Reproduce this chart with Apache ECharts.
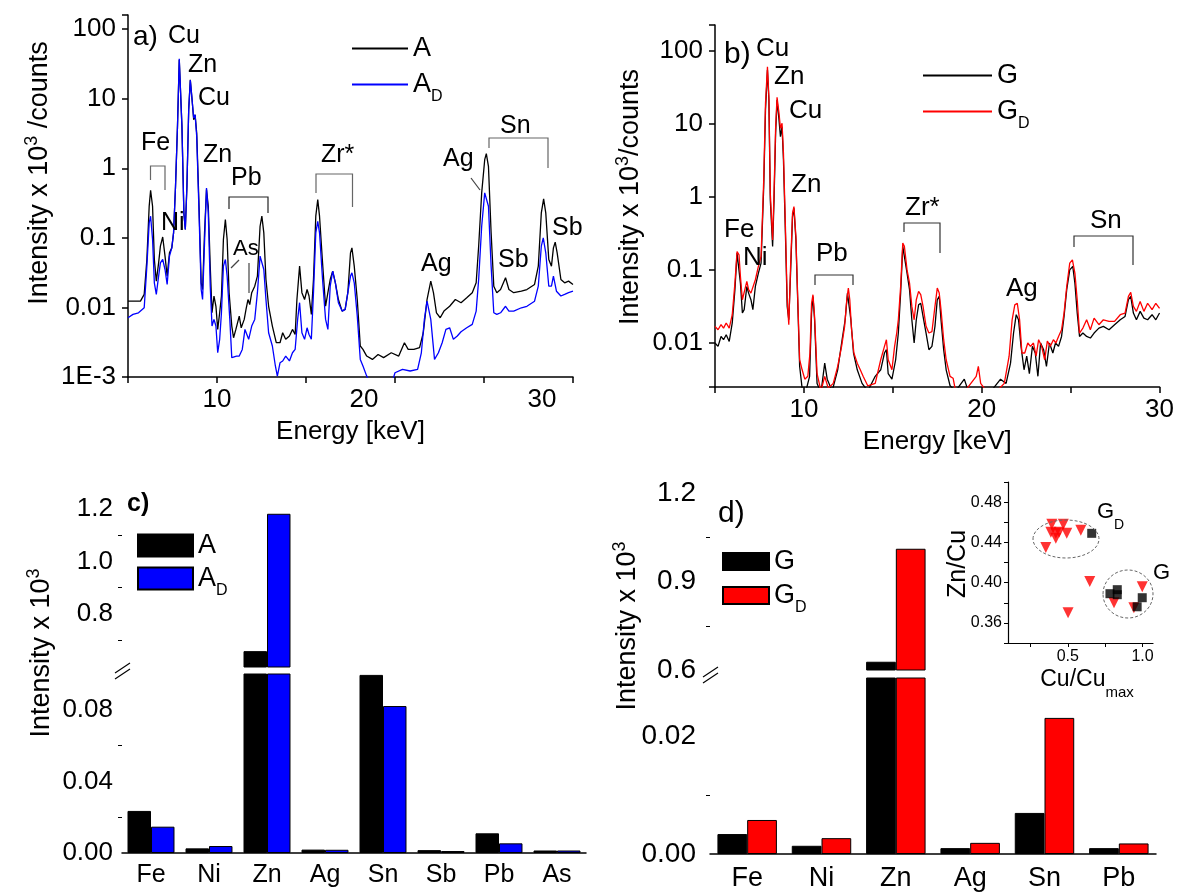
<!DOCTYPE html>
<html>
<head>
<meta charset="utf-8">
<script src="https://cdn.jsdelivr.net/npm/echarts@6/dist/echarts.min.js"></script>
<style>
  html, body { margin: 0; padding: 0; background: #fff; }
  #main { width: 1177px; height: 893px; }
</style>
</head>
<body>
<div id="main"></div>
<script>
// spectra: [energy keV, intensity x10^3 counts]
const specA = [[5.00,0.0123],[5.70,0.0123],[5.91,0.0154],[6.06,0.049],[6.19,0.285],[6.27,0.483],[6.38,0.285],[6.48,0.049],[6.59,0.0239],[6.72,0.0438],[6.82,0.0759],[6.95,0.103],[7.08,0.0546],[7.20,0.0282],[7.33,0.061],[7.46,0.0718],[7.56,0.118],[7.67,0.552],[7.78,4.01],[7.88,36.3],[7.94,36.3],[8.03,4.01],[8.14,0.229],[8.22,0.132],[8.31,0.552],[8.41,6.95],[8.50,18.7],[8.60,9.68],[8.69,5.0],[8.77,5.89],[8.86,3.21],[8.98,0.355],[9.11,0.0226],[9.19,0.0181],[9.30,0.118],[9.41,0.494],[9.51,0.285],[9.62,0.0392],[9.72,0.00838],[9.83,0.0146],[9.94,0.0104],[10.04,0.00483],[10.15,0.00838],[10.25,0.0146],[10.36,0.0946],[10.47,0.183],[10.57,0.0946],[10.68,0.0163],[10.83,0.0054],[10.93,0.00367],[11.06,0.00483],[11.25,0.00752],[11.36,0.0051],[11.53,0.00673],[11.63,0.00936],[11.74,0.013],[11.84,0.011],[11.95,0.0163],[12.12,0.0202],[12.27,0.0282],[12.42,0.147],[12.52,0.205],[12.63,0.118],[12.75,0.0252],[12.90,0.0104],[13.11,0.0054],[13.33,0.00311],[13.54,0.00311],[13.69,0.00433],[13.86,0.00348],[14.07,0.00388],[14.24,0.00483],[14.39,0.00409],[14.49,0.013],[14.64,0.0392],[14.77,0.0163],[14.92,0.013],[15.06,0.0181],[15.17,0.0146],[15.30,0.00794],[15.42,0.0252],[15.55,0.205],[15.66,0.355],[15.76,0.205],[15.93,0.0438],[16.10,0.0104],[16.23,0.0163],[16.36,0.0252],[16.50,0.0333],[16.65,0.0226],[16.82,0.013],[17.03,0.00886],[17.20,0.00936],[17.35,0.0163],[17.50,0.061],[17.58,0.0718],[17.71,0.0392],[17.88,0.013],[18.05,0.00279],[18.20,0.00249],[18.41,0.002],[18.73,0.00179],[19.05,0.00211],[19.36,0.0019],[19.79,0.00223],[20.21,0.002],[20.53,0.00311],[20.74,0.00249],[21.06,0.00249],[21.38,0.00264],[21.59,0.00433],[21.80,0.013],[22.01,0.0239],[22.16,0.0163],[22.33,0.00838],[22.54,0.00711],[22.75,0.00886],[23.07,0.0104],[23.39,0.013],[23.71,0.0117],[24.03,0.0138],[24.34,0.0163],[24.56,0.0226],[24.70,0.0759],[24.87,0.443],[25.04,1.33],[25.13,1.63],[25.25,1.07],[25.40,0.118],[25.55,0.0202],[25.72,0.0163],[25.93,0.0181],[26.21,0.0267],[26.40,0.0181],[26.67,0.0163],[27.10,0.0171],[27.41,0.0181],[27.84,0.0214],[28.05,0.0392],[28.22,0.229],[28.35,0.363],[28.47,0.229],[28.64,0.049],[28.79,0.0392],[28.90,0.0718],[29.00,0.0867],[29.11,0.061],[29.32,0.0252],[29.53,0.0226],[29.75,0.0239],[30.00,0.0214]];

const specAD = [[5.00,0.00711],[5.28,0.00794],[5.59,0.00838],[5.91,0.00989],[6.06,0.0392],[6.19,0.164],[6.27,0.205],[6.38,0.0946],[6.48,0.0226],[6.59,0.0154],[6.72,0.0282],[6.82,0.0438],[6.95,0.0489],[7.08,0.0351],[7.20,0.0214],[7.33,0.0546],[7.46,0.0718],[7.56,0.118],[7.67,0.552],[7.78,4.01],[7.88,37.5],[7.94,37],[8.03,4.01],[8.14,0.22],[8.22,0.132],[8.31,0.552],[8.41,6.95],[8.50,18.5],[8.60,9.68],[8.69,5.3],[8.77,5.89],[8.86,2.88],[8.98,0.285],[9.11,0.0181],[9.19,0.013],[9.30,0.0847],[9.41,0.522],[9.51,0.229],[9.62,0.0202],[9.72,0.0054],[9.83,0.00673],[9.94,0.0054],[10.04,0.00223],[10.15,0.00348],[10.25,0.00838],[10.36,0.0392],[10.47,0.0489],[10.57,0.0282],[10.72,0.00673],[10.83,0.0019],[10.93,0.00179],[11.10,0.002],[11.25,0.002],[11.42,0.00249],[11.57,0.00483],[11.67,0.0051],[11.78,0.00348],[11.95,0.0054],[12.12,0.00673],[12.27,0.0163],[12.42,0.0546],[12.52,0.0546],[12.63,0.0351],[12.75,0.013],[12.90,0.00433],[13.11,0.00279],[13.28,0.00144],[13.39,0.00103],[13.54,0.0016],[13.69,0.0017],[13.86,0.002],[14.07,0.0017],[14.24,0.00223],[14.39,0.00249],[14.53,0.00673],[14.64,0.0117],[14.77,0.00433],[14.92,0.00348],[15.06,0.0051],[15.17,0.00409],[15.30,0.00348],[15.42,0.0163],[15.55,0.118],[15.66,0.173],[15.76,0.118],[15.93,0.0252],[16.10,0.00673],[16.23,0.00483],[16.36,0.0202],[16.50,0.0333],[16.65,0.0226],[16.82,0.0117],[17.03,0.00886],[17.20,0.00936],[17.35,0.0163],[17.50,0.0282],[17.58,0.0315],[17.71,0.0226],[17.88,0.00752],[18.05,0.00179],[18.20,0.00144],[18.41,0.00103],[18.73,0.00074],[19.36,0.00083],[19.89,0.00093],[20.00,0.00115],[20.42,0.00129],[20.85,0.00122],[21.27,0.00129],[21.48,0.00223],[21.65,0.00673],[21.80,0.0123],[22.01,0.00673],[22.22,0.00179],[22.44,0.00223],[22.65,0.00311],[22.86,0.00483],[23.07,0.0051],[23.28,0.00348],[23.50,0.00388],[23.71,0.00447],[24.03,0.0051],[24.34,0.0057],[24.56,0.00886],[24.70,0.0252],[24.87,0.147],[25.04,0.443],[25.15,0.45],[25.25,0.285],[25.40,0.0392],[25.55,0.00838],[25.72,0.00794],[25.93,0.00838],[26.21,0.0104],[26.40,0.00886],[26.67,0.00886],[27.10,0.00989],[27.41,0.0104],[27.84,0.0123],[28.05,0.0202],[28.22,0.0759],[28.33,0.1],[28.47,0.061],[28.64,0.0202],[28.79,0.0202],[28.90,0.0282],[29.07,0.0171],[29.32,0.0146],[29.53,0.0154],[29.75,0.0163],[30.00,0.0171]];

const specG = [[5.00,0.01],[5.17,0.009],[5.34,0.0123],[5.48,0.0111],[5.63,0.013],[5.80,0.0105],[5.97,0.0188],[6.12,0.0536],[6.24,0.17],[6.28,0.179],[6.43,0.066],[6.54,0.0257],[6.64,0.0286],[6.79,0.0594],[6.89,0.0482],[7.02,0.0391],[7.13,0.0286],[7.27,0.0594],[7.44,0.0906],[7.59,0.124],[7.74,1.38],[7.84,15.5],[7.95,54.4],[8.03,21.2],[8.11,0.91],[8.24,0.21],[8.32,0.91],[8.41,7.41],[8.49,21.2],[8.60,11.3],[8.68,6.68],[8.77,9.14],[8.85,3.2],[8.96,0.318],[9.06,0.0317],[9.15,0.0208],[9.25,0.0906],[9.36,0.538],[9.44,0.7],[9.55,0.258],[9.65,0.0391],[9.76,0.0048],[9.90,0.0024],[10.11,0.0022],[10.32,0.0035],[10.43,0.0257],[10.51,0.0434],[10.60,0.0208],[10.74,0.0028],[10.96,0.0021],[11.17,0.0053],[11.31,0.0032],[11.59,0.0022],[11.90,0.0043],[12.15,0.0111],[12.32,0.0208],[12.45,0.0482],[12.53,0.0482],[12.64,0.0208],[12.79,0.0073],[13.00,0.0043],[13.27,0.0028],[13.59,0.0022],[14.01,0.0035],[14.32,0.0043],[14.53,0.0073],[14.64,0.0081],[14.74,0.0038],[14.95,0.0032],[15.16,0.0059],[15.31,0.0137],[15.44,0.0482],[15.56,0.21],[15.65,0.21],[15.80,0.0906],[15.94,0.0536],[16.07,0.0208],[16.20,0.01],[16.32,0.0208],[16.45,0.0333],[16.57,0.035],[16.70,0.0231],[16.87,0.0137],[17.03,0.0081],[17.20,0.009],[17.37,0.0169],[17.50,0.0391],[17.61,0.0434],[17.71,0.0208],[17.86,0.0081],[18.00,0.0043],[18.22,0.0026],[18.53,0.0022],[19.02,0.0032],[19.27,0.0021],[19.90,0.0021],[20.53,0.0022],[21.06,0.0032],[21.37,0.0028],[21.62,0.0053],[21.79,0.0137],[21.94,0.0244],[22.07,0.0208],[22.21,0.009],[22.38,0.0043],[22.53,0.0066],[22.68,0.0038],[22.85,0.009],[23.01,0.0073],[23.16,0.0035],[23.31,0.01],[23.48,0.0081],[23.64,0.0048],[23.81,0.01],[24.00,0.0073],[24.15,0.01],[24.32,0.009],[24.49,0.0123],[24.63,0.0231],[24.78,0.0536],[24.95,0.1],[25.12,0.112],[25.24,0.066],[25.37,0.0257],[25.50,0.0123],[25.69,0.0137],[25.90,0.0123],[26.11,0.0117],[26.32,0.0137],[26.59,0.016],[26.84,0.0169],[27.16,0.0152],[27.47,0.0178],[27.79,0.0208],[28.06,0.0231],[28.25,0.0391],[28.38,0.0434],[28.53,0.0257],[28.70,0.0208],[28.91,0.0271],[29.12,0.0219],[29.33,0.0208],[29.58,0.0244],[29.79,0.0208],[30.00,0.0257]];

const specGD = [[5.00,0.0169],[5.17,0.0152],[5.34,0.0178],[5.48,0.016],[5.63,0.0188],[5.80,0.016],[5.97,0.0244],[6.12,0.066],[6.24,0.179],[6.35,0.161],[6.43,0.0815],[6.54,0.0391],[6.64,0.0391],[6.79,0.0697],[6.89,0.0536],[7.02,0.0482],[7.13,0.0482],[7.27,0.0734],[7.44,0.112],[7.59,0.153],[7.74,1.71],[7.84,19.1],[7.95,60.4],[8.03,23.5],[8.11,1.12],[8.24,0.258],[8.32,1.12],[8.41,9.14],[8.49,23.0],[8.60,13.9],[8.68,8.67],[8.77,10.2],[8.85,3.95],[8.96,0.394],[9.06,0.0391],[9.15,0.0178],[9.25,0.112],[9.36,0.598],[9.44,0.738],[9.55,0.287],[9.65,0.0434],[9.76,0.0059],[9.90,0.0043],[10.05,0.0032],[10.22,0.0035],[10.34,0.0073],[10.43,0.035],[10.51,0.0458],[10.60,0.0231],[10.74,0.0038],[10.96,0.0022],[11.17,0.0035],[11.37,0.0024],[11.65,0.0028],[11.90,0.0048],[12.12,0.009],[12.29,0.0169],[12.41,0.0391],[12.50,0.0565],[12.58,0.0391],[12.68,0.0152],[12.81,0.0073],[13.00,0.0053],[13.17,0.0043],[13.33,0.0035],[13.59,0.0026],[14.01,0.0028],[14.32,0.0059],[14.53,0.009],[14.64,0.0111],[14.74,0.0059],[14.95,0.0043],[15.10,0.009],[15.22,0.0137],[15.31,0.0208],[15.44,0.0594],[15.56,0.233],[15.65,0.21],[15.80,0.1],[15.94,0.066],[16.07,0.0317],[16.20,0.0208],[16.32,0.0391],[16.45,0.0508],[16.57,0.0458],[16.70,0.0317],[16.87,0.0169],[17.03,0.0137],[17.20,0.0143],[17.37,0.0317],[17.50,0.0565],[17.61,0.0482],[17.71,0.0286],[17.86,0.0111],[18.00,0.0059],[18.22,0.0035],[18.39,0.0033],[18.53,0.0022],[19.06,0.0022],[19.69,0.0035],[19.81,0.0048],[19.94,0.0028],[20.32,0.0021],[20.85,0.0022],[21.27,0.0028],[21.54,0.0066],[21.71,0.0208],[21.86,0.0333],[22.00,0.035],[22.13,0.0208],[22.26,0.0073],[22.42,0.0073],[22.59,0.01],[22.74,0.009],[22.91,0.01],[23.06,0.0066],[23.20,0.0111],[23.37,0.009],[23.54,0.0059],[23.69,0.0106],[23.86,0.009],[24.03,0.0111],[24.17,0.01],[24.32,0.0123],[24.49,0.0152],[24.63,0.0257],[24.78,0.0594],[24.95,0.124],[25.10,0.137],[25.24,0.0906],[25.37,0.0391],[25.50,0.0137],[25.69,0.016],[25.90,0.0208],[26.11,0.0152],[26.32,0.0219],[26.59,0.0178],[26.84,0.0208],[27.16,0.0198],[27.47,0.0198],[27.79,0.0244],[28.06,0.0257],[28.25,0.0434],[28.38,0.0492],[28.53,0.0317],[28.70,0.0271],[28.91,0.0371],[29.12,0.0271],[29.33,0.035],[29.58,0.0286],[29.79,0.035],[30.00,0.0297]];

// bar charts (intensity x 10^3)
const elemsC = ['Fe', 'Ni', 'Zn', 'Ag', 'Sn', 'Sb', 'Pb', 'As'];
const barA  = [0.0235, 0.0026, 0.66, 0.0019, 0.0995, 0.0016, 0.011, 0.0014];
const barAD = [0.0147, 0.0039, 1.18, 0.0018, 0.0821, 0.0011, 0.0054, 0.0014];

const elemsD = ['Fe', 'Ni', 'Zn', 'Ag', 'Sn', 'Pb'];
const barG  = [0.0034, 0.0014, 0.628, 0.001, 0.007, 0.001];
const barGD = [0.0058, 0.0027, 1.011, 0.0019, 0.0232, 0.0018];

// inset: [Cu/Cu_max, Zn/Cu]
const insetGD = [[0.393,0.458],[0.47,0.458],[0.387,0.450],[0.42,0.449],[0.442,0.450],[0.493,0.449],[0.42,0.444],[0.587,0.452],[0.353,0.435],[0.647,0.401],[0.502,0.370],[0.809,0.380],[0.942,0.375],[0.998,0.396]];
const insetG  = [[0.66,0.449],[0.782,0.389],[0.831,0.393],[0.831,0.388],[0.964,0.376],[0.998,0.385]];

const FONT = 'Liberation Sans';
const chart = echarts.init(document.getElementById('main'));

const axLine = { lineStyle: { color: '#000', width: 1.5 } };
const axTick = { length: 6, lineStyle: { color: '#000', width: 1.5 } };
const noSplit = { show: false };

function decade(v) {
  const l = Math.log10(v), e = Math.round(l);
  if (Math.abs(l - e) > 1e-6) return '';
  return e === -3 ? '1E-3' : String(Math.pow(10, e));
}

const legendNames = {
  A: '{n|A}', AD: '{n|A}{s|D}', G: '{n|G}', GD: '{n|G}{s|D}',
  barA: '{n|A}', barAD: '{n|A}{s|D}', barG: '{n|G}', barGD: '{n|G}{s|D}'
};
const legendRich = {
  n: { fontSize: 27, lineHeight: 40, color: '#000', fontFamily: FONT },
  s: { fontSize: 16, lineHeight: 16, verticalAlign: 'bottom', color: '#000', fontFamily: FONT }
};
function legend(names, left, top, w, h, gap) {
  return {
    data: names, left, top, orient: 'vertical', padding: 0, icon: 'rect',
    itemWidth: w, itemHeight: h, itemGap: gap, selectedMode: false,
    formatter: n => legendNames[n],
    textStyle: { fontSize: 27, color: '#000', fontFamily: FONT, rich: legendRich }
  };
}

function txt(x, y, text, size, o) {
  o = o || {};
  return {
    type: 'text', x, y, rotation: o.rot || 0, z: 50, silent: true,
    style: {
      text, fontSize: size, fontFamily: FONT, fontWeight: o.bold ? 'bold' : 'normal',
      fill: '#000', align: o.align || 'left', verticalAlign: 'middle', rich: o.rich
    }
  };
}
function pl(points, color) {
  return { type: 'polyline', z: 50, silent: true, shape: { points }, style: { stroke: color, lineWidth: 1.2, fill: null } };
}
const supRich = {
  n: { fontSize: 27, lineHeight: 34, fontFamily: FONT, fill: '#000' },
  p: { fontSize: 18, lineHeight: 18, verticalAlign: 'top', fontFamily: FONT, fill: '#000' }
};
const subRich = (big, small) => ({
  n: { fontSize: big, lineHeight: 40, fontFamily: FONT, fill: '#000' },
  s: { fontSize: small, lineHeight: 16, verticalAlign: 'bottom', fontFamily: FONT, fill: '#000' }
});
const R = Math.PI / 2;

const option = {
  animation: false,
  textStyle: { fontFamily: FONT, color: '#000' },
  grid: [
    { left: 128, top: 15, width: 445, height: 362 },
    { left: 715, top: 25, width: 447, height: 362 },
    { left: 122, top: 490, width: 464, height: 177 },
    { left: 122, top: 674, width: 464, height: 179 },
    { left: 710, top: 493, width: 446, height: 177 },
    { left: 710, top: 678, width: 446, height: 176 },
    { left: 1008, top: 482, width: 145, height: 161 }
  ],
  legend: [
    legend(['A', 'AD'], 352, 35, 56, 2, 9),
    legend(['G', 'GD'], 923, 62, 69, 2, 9),
    legend(['barA', 'barAD'], 137, 532, 55, 22, 6),
    legend(['barG', 'barGD'], 722, 548, 46, 17, 7)
  ],
  xAxis: [
    { gridIndex: 0, type: 'value', min: 5, max: 30, interval: 5, splitLine: noSplit,
      axisLine: axLine, axisTick: axTick,
      axisLabel: { color: '#000', fontSize: 26, margin: 10,
        formatter: v => v === 10 ? '10' : (v === 20 || v === 30) ? '{s|' + v + '}' : '',
        rich: { s: { fontSize: 26, fontFamily: FONT, color: '#000', padding: [0, 62, 0, 0] } } },
      name: 'Energy [keV]', nameLocation: 'middle', nameGap: 42,
      nameTextStyle: { fontSize: 26, color: '#000', fontFamily: FONT } },
    { gridIndex: 1, type: 'value', min: 5, max: 30, interval: 5, splitLine: noSplit,
      axisLine: axLine, axisTick: axTick,
      axisLabel: { color: '#000', fontSize: 26, margin: 10, formatter: v => (v % 10 === 0 && v > 5) ? String(v) : '' },
      name: 'Energy [keV]', nameLocation: 'middle', nameGap: 42,
      nameTextStyle: { fontSize: 26, color: '#000', fontFamily: FONT } },
    { gridIndex: 2, type: 'category', data: elemsC, show: false },
    { gridIndex: 3, type: 'category', data: elemsC, position: 'bottom', axisLine: axLine,
      axisTick: Object.assign({ alignWithLabel: true }, axTick),
      axisLabel: { color: '#000', fontSize: 25, margin: 10 } },
    { gridIndex: 3, type: 'category', data: elemsC, position: 'bottom',
      axisLine: { show: false }, axisLabel: { show: false }, axisTick: axTick },
    { gridIndex: 4, type: 'category', data: elemsD, show: false },
    { gridIndex: 5, type: 'category', data: elemsD, position: 'bottom', axisLine: axLine,
      axisTick: Object.assign({ alignWithLabel: true }, axTick),
      axisLabel: { color: '#000', fontSize: 27, margin: 11 } },
    { gridIndex: 5, type: 'category', data: elemsD, position: 'bottom',
      axisLine: { show: false }, axisLabel: { show: false }, axisTick: axTick },
    { gridIndex: 6, type: 'value', min: 0.1, max: 1.07, splitLine: noSplit,
      axisLine: { lineStyle: { color: '#000', width: 1.2 } },
      axisTick: { length: 4, lineStyle: { color: '#000', width: 1 }, customValues: [0.25, 0.5, 0.75, 1.0] },
      axisLabel: { color: '#000', fontSize: 16, margin: 6, customValues: [0.5, 1.0], formatter: v => v.toFixed(1) } }
  ],
  yAxis: [
    { gridIndex: 0, type: 'log', logBase: 10, min: 0.001, max: 160, splitLine: noSplit,
      axisLine: axLine, axisTick: axTick,
      axisLabel: { color: '#000', fontSize: 26, margin: 12, formatter: decade } },
    { gridIndex: 1, type: 'log', logBase: 10, min: 0.0025, max: 225, splitLine: noSplit,
      axisLine: axLine, axisTick: axTick,
      axisLabel: { color: '#000', fontSize: 26, margin: 12, formatter: decade } },
    { gridIndex: 2, type: 'value', min: 0.6, max: 1.27, interval: 0.2, splitLine: noSplit,
      axisLine: axLine, axisTick: axTick,
      minorTick: { show: true, splitNumber: 2, length: 4, lineStyle: { color: '#000' } },
      axisLabel: { color: '#000', fontSize: 26, margin: 9, formatter: v => (v > 0.7 && v < 1.25) ? v.toFixed(1) : '' } },
    { gridIndex: 3, type: 'value', min: 0, max: 0.1, interval: 0.04, splitLine: noSplit,
      axisLine: axLine, axisTick: axTick,
      minorTick: { show: true, splitNumber: 2, length: 4, lineStyle: { color: '#000' } },
      axisLabel: { color: '#000', fontSize: 26, margin: 9, formatter: v => v < 0.09 ? v.toFixed(2) : '' } },
    { gridIndex: 4, type: 'value', min: 0.6, max: 1.2, interval: 0.3, splitLine: noSplit,
      axisLine: axLine, axisTick: axTick,
      minorTick: { show: true, splitNumber: 2, length: 4, lineStyle: { color: '#000' } },
      axisLabel: { color: '#000', fontSize: 28, margin: 14, formatter: v => v.toFixed(1) } },
    { gridIndex: 5, type: 'value', min: 0, max: 0.03, interval: 0.02, splitLine: noSplit,
      axisLine: axLine, axisTick: axTick,
      minorTick: { show: true, splitNumber: 2, length: 4, lineStyle: { color: '#000' } },
      axisLabel: { color: '#000', fontSize: 28, margin: 14, formatter: v => v < 0.025 ? v.toFixed(2) : '' } },
    { gridIndex: 6, type: 'value', min: 0.34, max: 0.5, interval: 0.02, splitLine: noSplit,
      axisLine: { lineStyle: { color: '#000', width: 1.2 } },
      axisTick: { length: 4, lineStyle: { color: '#000', width: 1 } },
      axisLabel: { color: '#000', fontSize: 16, margin: 6,
        formatter: v => { const k = Math.round(v * 100); return (k % 4 === 0 && k >= 36 && k <= 48) ? v.toFixed(2) : ''; } } }
  ],
  series: [
    { name: 'A', type: 'line', xAxisIndex: 0, yAxisIndex: 0, data: specA, symbol: 'none', silent: true,
      lineStyle: { color: '#000', width: 1.3 }, itemStyle: { color: '#000' }, z: 2 },
    { name: 'AD', type: 'line', xAxisIndex: 0, yAxisIndex: 0, data: specAD, symbol: 'none', silent: true,
      lineStyle: { color: '#0000ff', width: 1.3 }, itemStyle: { color: '#0000ff' }, z: 3 },
    { name: 'G', type: 'line', xAxisIndex: 1, yAxisIndex: 1, data: specG, symbol: 'none', silent: true,
      lineStyle: { color: '#000', width: 1.3 }, itemStyle: { color: '#000' }, z: 2 },
    { name: 'GD', type: 'line', xAxisIndex: 1, yAxisIndex: 1, data: specGD, symbol: 'none', silent: true,
      lineStyle: { color: '#ff0000', width: 1.3 }, itemStyle: { color: '#ff0000' }, z: 3 },

    { name: 'barA', type: 'bar', xAxisIndex: 2, yAxisIndex: 2, data: barA, barGap: '0%', barCategoryGap: '19%',
      itemStyle: { color: '#000', borderColor: '#000', borderWidth: 1 } },
    { name: 'barAD', type: 'bar', xAxisIndex: 2, yAxisIndex: 2, data: barAD, barGap: '0%', barCategoryGap: '19%',
      itemStyle: { color: '#0000ff', borderColor: '#000', borderWidth: 1 } },
    { name: 'barA', type: 'bar', xAxisIndex: 3, yAxisIndex: 3, data: barA, barGap: '0%', barCategoryGap: '19%',
      itemStyle: { color: '#000', borderColor: '#000', borderWidth: 1 } },
    { name: 'barAD', type: 'bar', xAxisIndex: 3, yAxisIndex: 3, data: barAD, barGap: '0%', barCategoryGap: '19%',
      itemStyle: { color: '#0000ff', borderColor: '#000', borderWidth: 1 } },

    { name: 'barG', type: 'bar', xAxisIndex: 5, yAxisIndex: 4, data: barG, barGap: '0%', barCategoryGap: '20%',
      itemStyle: { color: '#000', borderColor: '#000', borderWidth: 1 } },
    { name: 'barGD', type: 'bar', xAxisIndex: 5, yAxisIndex: 4, data: barGD, barGap: '0%', barCategoryGap: '20%',
      itemStyle: { color: '#ff0000', borderColor: '#000', borderWidth: 1 } },
    { name: 'barG', type: 'bar', xAxisIndex: 6, yAxisIndex: 5, data: barG, barGap: '0%', barCategoryGap: '20%',
      itemStyle: { color: '#000', borderColor: '#000', borderWidth: 1 } },
    { name: 'barGD', type: 'bar', xAxisIndex: 6, yAxisIndex: 5, data: barGD, barGap: '0%', barCategoryGap: '20%',
      itemStyle: { color: '#ff0000', borderColor: '#000', borderWidth: 1 } },

    { name: 'insetGD', type: 'scatter', xAxisIndex: 8, yAxisIndex: 6, data: insetGD, silent: true,
      symbol: 'triangle', symbolRotate: 180, symbolSize: 11, itemStyle: { color: '#ff0000' } },
    { name: 'insetG', type: 'scatter', xAxisIndex: 8, yAxisIndex: 6, data: insetG, silent: true,
      symbol: 'rect', symbolSize: 9, itemStyle: { color: '#000' } }
  ],
  graphic: [
    // axis titles
    txt(40, 173, '{n|Intensity x 10}{p|3}{n| /counts}', 27, { rot: R, align: 'center', rich: supRich }),
    txt(631, 197, '{n|Intensity x 10}{p|3}{n|/counts}', 27, { rot: R, align: 'center', rich: supRich }),
    txt(42, 653, '{n|Intensity x 10}{p|3}', 27, { rot: R, align: 'center', rich: supRich }),
    txt(628, 626, '{n|Intensity x 10}{p|3}', 27, { rot: R, align: 'center', rich: supRich }),

    // panel a labels
    txt(133, 37, 'a)', 28),
    txt(168, 36, 'Cu', 25), txt(188, 65, 'Zn', 25), txt(198, 98, 'Cu', 25), txt(203, 155, 'Zn', 25),
    txt(141, 143, 'Fe', 25), txt(161, 223, 'Ni', 25), txt(231, 178, 'Pb', 25), txt(233, 249, 'As', 22),
    txt(321, 155, 'Zr*', 25), txt(443, 159, 'Ag', 25), txt(500, 126, 'Sn', 25),
    txt(421, 264, 'Ag', 25), txt(498, 260, 'Sb', 25), txt(552, 228, 'Sb', 25),
    pl([[150.5, 180], [150.5, 166], [165, 166], [165, 190]], '#666'),
    pl([[229, 209], [229, 197], [268, 197], [268, 213]], '#222'),
    pl([[316, 193], [316, 174], [352.5, 174], [352.5, 207]], '#666'),
    pl([[489, 148], [489, 138], [548, 138], [548, 168]], '#666'),
    pl([[249, 263], [249, 293]], '#444'),
    pl([[239, 260], [231, 268]], '#444'),
    pl([[471, 178], [480, 190]], '#444'),

    // panel b labels
    txt(724, 55, 'b)', 30),
    txt(756, 49, 'Cu', 26), txt(774, 77, 'Zn', 26), txt(789, 111, 'Cu', 26), txt(791, 185, 'Zn', 26),
    txt(724, 230, 'Fe', 26), txt(743, 258, 'Ni', 26), txt(816, 254, 'Pb', 26),
    txt(905, 208, 'Zr*', 26), txt(1006, 289, 'Ag', 26), txt(1090, 221, 'Sn', 26),
    pl([[815, 285], [815, 275], [853, 275], [853, 285]], '#333'),
    pl([[904, 232], [904, 223], [940, 223], [940, 253]], '#333'),
    pl([[1074, 247], [1074, 236], [1133, 236], [1133, 265]], '#333'),

    // panel c / d
    txt(127, 504, 'c)', 25, { bold: true }),
    txt(718, 514, 'd)', 30),
    pl([[115, 673], [130, 663]], '#000'),
    pl([[115, 679], [130, 669]], '#000'),
    pl([[703, 677], [718, 667]], '#000'),
    pl([[703, 683], [718, 673]], '#000'),

    // inset
    { type: 'ellipse', z: 40, silent: true, shape: { cx: 1066, cy: 539, rx: 33, ry: 19 },
      style: { fill: null, stroke: '#666', lineWidth: 1, lineDash: [3, 2] } },
    { type: 'ellipse', z: 40, silent: true, shape: { cx: 1128, cy: 594, rx: 25, ry: 24 },
      style: { fill: null, stroke: '#666', lineWidth: 1, lineDash: [3, 2] } },
    txt(1097, 512, '{n|G}{s|D}', 22, { rich: subRich(22, 14) }),
    txt(1153, 573, 'G', 22),
    txt(958, 564, 'Zn/Cu', 25, { rot: R, align: 'center' }),
    txt(1087, 680, '{n|Cu/Cu}{s|max}', 23, { align: 'center', rich: subRich(23, 15) })
  ]
};

chart.setOption(option);
</script>
</body>
</html>
